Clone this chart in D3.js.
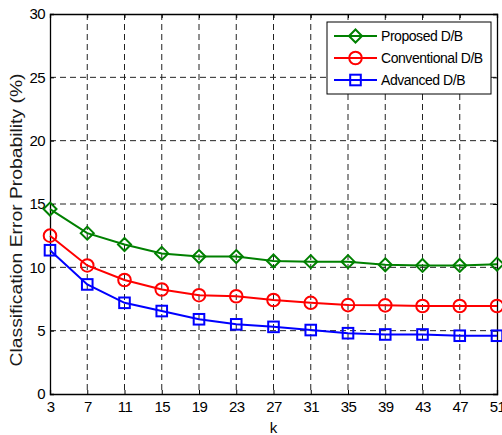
<!DOCTYPE html>
<html><head><meta charset="utf-8">
<script src="https://cdn.jsdelivr.net/npm/d3@7"></script>
<style>body{margin:0;background:#fff}svg{display:block;font-family:"Liberation Sans",Arial,sans-serif}</style>
</head><body>
<svg id="c" width="502" height="435"></svg>
<script>
const kValues = [3,7,11,15,19,23,27,31,35,39,43,47,51];
const proposed = [14.6,12.7,11.8,11.1,10.85,10.85,10.5,10.45,10.45,10.2,10.15,10.15,10.25];
const conventional = [12.5,10.15,9.0,8.25,7.8,7.72,7.42,7.2,7.02,7.0,6.95,6.95,6.95];
const advanced = [11.35,8.65,7.2,6.55,5.9,5.5,5.3,5.05,4.8,4.7,4.7,4.6,4.6];
const yTicks = [0,5,10,15,20,25,30];
const seriesNames = ["Proposed D/B","Conventional D/B","Advanced D/B"];
const seriesColors = ["#008000","#ff0000","#0000ff"];
const seriesMarkers = ["diamond","circle","square"];

const svg = d3.select("#c");
const L=50,R=497,T=14,B=394;
const x = d3.scaleLinear().domain([3,51]).range([L,R]);
const y = d3.scaleLinear().domain([0,30]).range([B,T]);

// grid
const g = svg.append("g");
g.selectAll(".vg").data(kValues.slice(1,-1)).join("line")
 .attr("x1",d=>x(d)).attr("x2",d=>x(d)).attr("y1",T).attr("y2",B)
 .attr("stroke","#222").attr("stroke-width",1).attr("stroke-dasharray","6,4");
g.selectAll(".hg").data(yTicks.slice(1,-1)).join("line")
 .attr("x1",L).attr("x2",R).attr("y1",d=>y(d)).attr("y2",d=>y(d))
 .attr("stroke","#222").attr("stroke-width",1).attr("stroke-dasharray","6,4");

// axes
const xa = svg.append("g").attr("transform",`translate(0,${B})`)
 .call(d3.axisBottom(x).tickValues(kValues).tickSize(-4).tickPadding(7.5).tickFormat(d3.format("d")));
const xa2 = svg.append("g").attr("transform",`translate(0,${T})`)
 .call(d3.axisTop(x).tickValues(kValues).tickSize(-4).tickFormat(""));
const ya = svg.append("g").attr("transform",`translate(${L},0)`)
 .call(d3.axisLeft(y).tickValues(yTicks).tickSize(-4).tickPadding(5));
const ya2 = svg.append("g").attr("transform",`translate(${R},0)`)
 .call(d3.axisRight(y).tickValues(yTicks).tickSize(-4).tickFormat(""));
[xa,xa2,ya,ya2].forEach(a=>{
  a.selectAll(".domain").attr("stroke","#000").attr("stroke-width",1.3);
  a.selectAll(".tick line").attr("stroke","#000");
  a.selectAll("text").attr("font-size",15).attr("letter-spacing","-0.6px").attr("fill","#000")
   .attr("font-family","Liberation Sans, Arial, sans-serif");
});

// series
const allSeries = [proposed,conventional,advanced];
const line = d3.line().x((d,i)=>x(kValues[i])).y(d=>y(d));
function marker(sel,type,color){
  if(type==="diamond") sel.append("path").attr("d","M0,-6.5L6.5,0L0,6.5L-6.5,0Z");
  else if(type==="circle") sel.append("circle").attr("r",6.3);
  else sel.append("rect").attr("x",-5.3).attr("y",-5.3).attr("width",10.6).attr("height",10.6);
  sel.selectAll("path,circle,rect").attr("fill","none").attr("stroke",color).attr("stroke-width",2);
}
allSeries.forEach((vals,si)=>{
  svg.append("path").datum(vals).attr("d",line).attr("fill","none")
   .attr("stroke",seriesColors[si]).attr("stroke-width",2);
  vals.forEach((v,i)=>{
    const m = svg.append("g").attr("transform",`translate(${x(kValues[i])},${y(v)})`);
    marker(m,seriesMarkers[si],seriesColors[si]);
  });
});

// labels
svg.append("text").attr("x",(L+R)/2).attr("y",433).attr("text-anchor","middle")
 .attr("font-size",15).text("k");
svg.append("text").attr("transform",`translate(22,220) rotate(-90)`)
 .attr("text-anchor","middle").attr("font-size",16).attr("fill","#1a1a1a")
 .attr("textLength",293).attr("lengthAdjust","spacingAndGlyphs")
 .text("Classification Error Probability (%)");

// legend
const lg = svg.append("g");
lg.append("rect").attr("x",327).attr("y",22).attr("width",164).attr("height",72)
 .attr("fill","#fff").attr("stroke","#000").attr("stroke-width",1);
seriesNames.forEach((n,i)=>{
  const yy = 36 + i*22;
  lg.append("line").attr("x1",334).attr("x2",377).attr("y1",yy).attr("y2",yy)
   .attr("stroke",seriesColors[i]).attr("stroke-width",2);
  const m = lg.append("g").attr("transform",`translate(355.5,${yy})`);
  marker(m,seriesMarkers[i],seriesColors[i]);
  lg.append("text").attr("x",381).attr("y",yy+5).attr("font-size",14)
   .attr("letter-spacing","-0.45px").text(n);
});
</script>
</body></html>
